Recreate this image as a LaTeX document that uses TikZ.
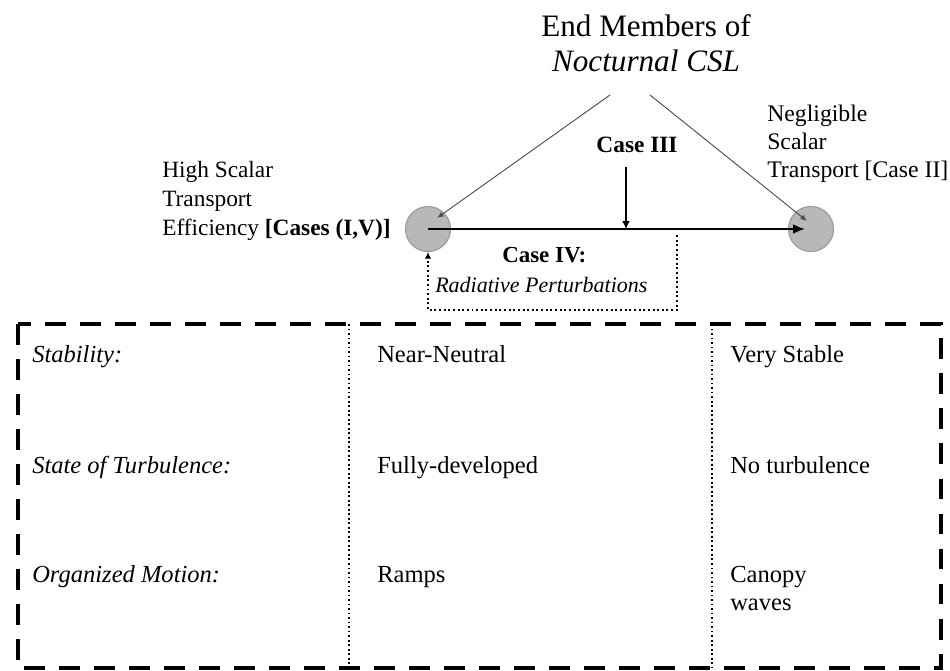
\documentclass[tikz,border=0pt]{standalone}
\usepackage{fontspec}
\setmainfont{Liberation Serif}
\usetikzlibrary{arrows.meta}

\begin{document}
\begin{tikzpicture}[x=0.754pt, y=-0.754pt,
        endmember/.style={circle, draw=black!40, line width=0.8pt, fill=black!28, minimum size=34pt, inner sep=0pt},
        sidetext/.style={anchor=base west, inner sep=0pt, align=left, font=\fontsize{17.6}{21.7}\selectfont},
        cell/.style={anchor=base west, inner sep=0pt, align=left, font=\fontsize{18.5}{21}\selectfont},
        rowhead/.style={cell, font=\itshape\fontsize{18.5}{21}\selectfont}]
        \useasboundingbox (0,0) rectangle (950,671);
        \node[anchor=base, inner sep=0pt, align=center, font=\fontsize{23.5}{27}\selectfont] (title) at (646,72)
            {End Members of\\\textit{Nocturnal CSL}};
        \node[endmember] (high) at (428,229) {};
        \node[endmember] (low) at (811,229) {};
        \node[sidetext] (hightext) at (162,235) {High Scalar\\Transport\\Efficiency \textbf{[Cases (I,V)]}};
        \node[sidetext, font=\fontsize{17.9}{20.8}\selectfont] (lowtext) at (767,177) {Negligible\\Scalar\\Transport [Case II]};
        \node[sidetext, anchor=base, font=\bfseries\fontsize{17.6}{21}\selectfont] (case3) at (637,153) {Case III};
        \node[sidetext, font=\bfseries\fontsize{17.3}{21}\selectfont] (case4) at (502,262) {Case IV:};
        \node[sidetext, font=\itshape\fontsize{16.6}{20}\selectfont] (radiative) at (435,292) {Radiative Perturbations};
        \coordinate (apexl) at (610,95);
        \coordinate (apexr) at (650,95);
        \coordinate (hit) at (626,229);
        \coordinate (c3top) at (626,167);
        \coordinate (c4top) at (677,235);
        \draw [black!70, line width=0.7pt, -{Latex[length=5pt, width=4pt]}] (apexl) -- ([shift={(9,-11)}]high.center);
        \draw [black!70, line width=0.7pt, -{Latex[length=5pt, width=4pt]}] (apexr) -- ([shift={(-4,-8)}]low.center);
        \draw [line width=2.2pt, -{Latex[length=9pt, width=7.5pt]}] (high.center) -- ([shift={(-6,0)}]low.center);
        \draw [line width=1.6pt, -{Latex[length=6pt, width=6pt]}] (c3top) -- (hit);
        \draw [line width=1.5pt, dotted, -{Latex[length=5pt, width=5pt]}] (c4top) -- (677,310) -| (high.south);
        \draw [line width=3.5pt, dash pattern=on 15.8pt off 10.6pt] (18,324) rectangle (941,668);
        \draw [line width=1.4pt, dotted] (349,324) -- (349,668);
        \draw [line width=1.4pt, dotted] (712,324) -- (712,668);
        \node[rowhead] (stability) at (32,362) {Stability:};
        \node[rowhead] (turbulence) at (32,473) {State of Turbulence:};
        \node[rowhead] (motion) at (32,582) {Organized Motion:};
        \node[cell] (neutral) at (377,362) {Near-Neutral};
        \node[cell] (developed) at (377,473) {Fully-developed};
        \node[cell] (ramps) at (377,582) {Ramps};
        \node[cell] (stable) at (730,362) {Very Stable};
        \node[cell] (noturb) at (730,473) {No turbulence};
        \node[cell] (waves) at (730,610) {Canopy\\waves};
    \end{tikzpicture}
\end{document}
